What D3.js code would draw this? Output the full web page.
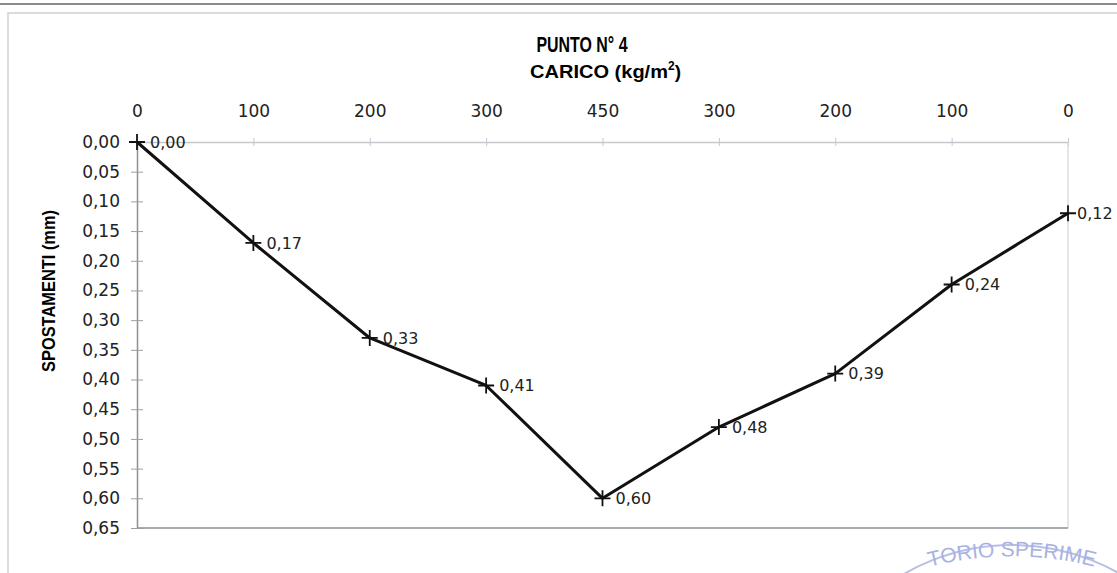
<!DOCTYPE html>
<html>
<head>
<meta charset="utf-8">
<script src="https://cdn.jsdelivr.net/npm/d3@7"></script>
<style>
  body { margin: 0; background: #fff; }
  svg { display: block; font-family: "Liberation Sans", Arial, sans-serif; }
</style>
</head>
<body>
<div id="chart"></div>
<script>
// load steps (kg/m2) along the top axis and measured displacements (mm)
var categories = ["0", "100", "200", "300", "450", "300", "200", "100", "0"];
var spostamenti = [0.00, 0.17, 0.33, 0.41, 0.60, 0.48, 0.39, 0.24, 0.12];
var yTicks = [0, 0.05, 0.10, 0.15, 0.20, 0.25, 0.30, 0.35, 0.40, 0.45, 0.50, 0.55, 0.60, 0.65];

var width = 1117, height = 573;
var margin = { top: 142, left: 137, right: 49, bottom: 45 };
var numFont = '"DejaVu Sans", Verdana, sans-serif';

var svg = d3.select('#chart').append('svg')
    .attr('width', width)
    .attr('height', height);

// scanned page decoration: dark rule and the light frame of the chart
svg.append('line')
    .attr('x1', 0).attr('x2', width)
    .attr('y1', 4).attr('y2', 4)
    .attr('stroke', '#666').attr('stroke-width', 1.6);
svg.append('rect')
    .attr('x', 8).attr('y', 13)
    .attr('width', width + 10).attr('height', height)
    .attr('fill', 'none')
    .attr('stroke', '#d0d0d0').attr('stroke-width', 1.5);

// one point per load step, categories are repeated so index is the key
var x = d3.scalePoint()
    .domain(d3.range(categories.length))
    .range([margin.left, width - margin.right]);

var y = d3.scaleLinear()
    .domain([0, 0.65])
    .range([margin.top, height - margin.bottom]);

var fmt = function(v) { return d3.format('.2f')(v).replace('.', ','); };

// top axis (loads)
var xAxis = svg.append('g')
    .attr('transform', 'translate(0,' + margin.top + ')')
    .call(d3.axisTop(x).tickSize(0).tickPadding(25).tickFormat(function(i) { return categories[i]; }));
xAxis.select('.domain').attr('stroke', '#c4c8cc').attr('stroke-width', 1.5);
xAxis.selectAll('text')
    .attr('font-family', numFont).attr('font-size', 17).attr('fill', '#222');
xAxis.selectAll('.tick').append('line')
    .attr('y1', -4).attr('y2', 4)
    .attr('stroke', '#c4c8cc');

// right edge of the plot
svg.append('line')
    .attr('x1', width - margin.right).attr('x2', width - margin.right)
    .attr('y1', margin.top).attr('y2', height - margin.bottom)
    .attr('stroke', '#d0d4d8').attr('stroke-width', 1.2);

// bottom edge
svg.append('line')
    .attr('x1', margin.left).attr('x2', width - margin.right)
    .attr('y1', height - margin.bottom).attr('y2', height - margin.bottom)
    .attr('stroke', '#8a9096').attr('stroke-width', 1.5);

// left axis (displacements), cross ticks
var yAxis = svg.append('g')
    .attr('transform', 'translate(' + margin.left + ',0)')
    .call(d3.axisLeft(y).tickValues(yTicks).tickSize(0).tickPadding(17).tickFormat(fmt));
yAxis.select('.domain').attr('stroke', '#8a9096').attr('stroke-width', 1.5);
yAxis.selectAll('text')
    .attr('font-family', numFont).attr('font-size', 17).attr('fill', '#222');
yAxis.selectAll('.tick').append('line')
    .attr('x1', -6).attr('x2', 6)
    .attr('stroke', '#9aa0a6');

// titles (the scan shows them in a narrow face)
svg.append('text')
    .attr('x', 582).attr('y', 52)
    .attr('text-anchor', 'middle')
    .attr('font-size', 22).attr('font-weight', 'bold')
    .attr('textLength', 91).attr('lengthAdjust', 'spacingAndGlyphs')
    .text('PUNTO N° 4');

var sub = svg.append('text')
    .attr('x', 530).attr('y', 78)
    .attr('font-size', 19).attr('font-weight', 'bold');
sub.append('tspan').attr('textLength', 138).attr('lengthAdjust', 'spacingAndGlyphs').text('CARICO (kg/m');
sub.append('tspan').attr('font-size', 12).attr('dy', -8).text('2');
sub.append('tspan').attr('dy', 8).text(')');

svg.append('text')
    .attr('transform', 'translate(55,291) rotate(-90)')
    .attr('text-anchor', 'middle')
    .attr('font-size', 18).attr('font-weight', 'bold')
    .attr('textLength', 162).attr('lengthAdjust', 'spacingAndGlyphs')
    .text('SPOSTAMENTI (mm)');

// the series line
var line = d3.line()
    .x(function(d, i) { return x(i); })
    .y(function(d) { return y(d); });

svg.append('path')
    .datum(spostamenti)
    .attr('d', line)
    .attr('fill', 'none')
    .attr('stroke', '#111')
    .attr('stroke-width', 3)
    .attr('stroke-linejoin', 'round');

// plus markers
var pts = svg.append('g').selectAll('g')
    .data(spostamenti)
    .enter()
    .append('g')
    .attr('transform', function(d, i) { return 'translate(' + x(i) + ',' + y(d) + ')'; });

pts.append('path')
    .attr('d', 'M-8,0H8M0,-8V8')
    .attr('stroke', '#111')
    .attr('stroke-width', 1.8);

// data labels (last one sits close to the page edge)
pts.append('text')
    .attr('x', function(d, i) { return i === spostamenti.length - 1 ? 9 : 13; })
    .attr('dy', '0.36em')
    .attr('font-family', numFont).attr('font-size', 16).attr('fill', '#222')
    .text(function(d) { return fmt(d); });

// faint stamp in the lower right corner of the scan
var stamp = svg.append('g').attr('opacity', 0.6);
stamp.append('circle')
    .attr('cx', 1012).attr('cy', 761).attr('r', 216)
    .attr('fill', 'none').attr('stroke', '#8a95d8').attr('stroke-width', 2);
stamp.append('path')
    .attr('id', 'stampArc')
    .attr('d', 'M' + (1012 - 115) + ',' + 577 + ' A 330 330 0 0 1 ' + (1012 + 115) + ',' + 577)
    .attr('fill', 'none');
stamp.append('text')
    .attr('font-size', 21).attr('fill', '#6f7fd0')
    .append('textPath')
    .attr('href', '#stampArc')
    .attr('startOffset', '50%')
    .attr('text-anchor', 'middle')
    .text('TORIO SPERIME');
</script>
</body>
</html>
